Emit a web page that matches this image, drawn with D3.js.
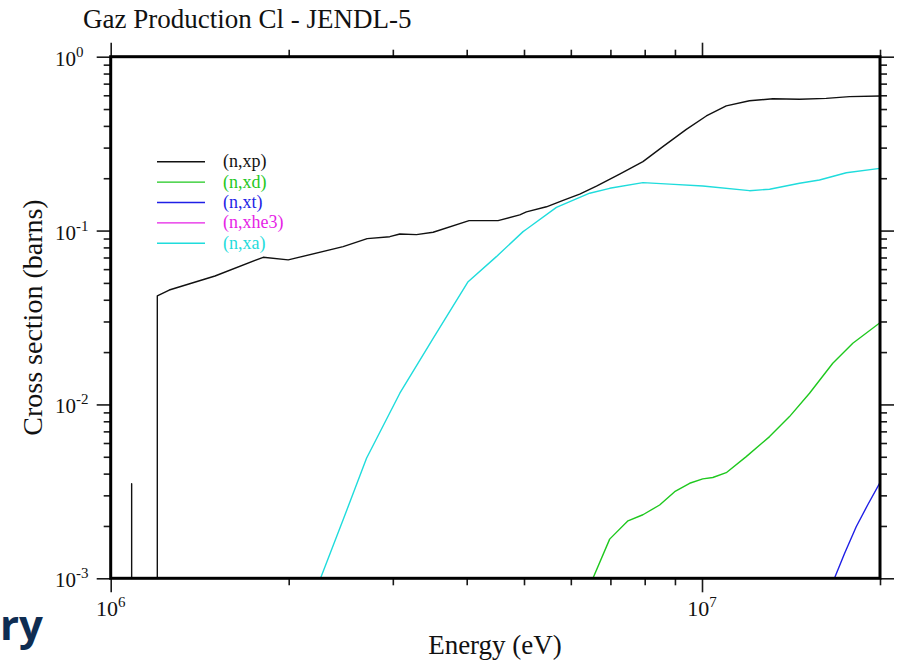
<!DOCTYPE html>
<html>
<head>
<meta charset="utf-8">
<script src="https://cdn.jsdelivr.net/npm/d3@7"></script>
<style>
  html, body { margin: 0; padding: 0; background: #fff; }
  svg { display: block; font-family: "Liberation Serif", "Times New Roman", serif; }
</style>
</head>
<body>
<svg id="chart" width="902" height="660"></svg>
<script>
// Gas production cross sections for chlorine, JENDL-5 evaluation.
// Energies in eV, cross sections in barns. Zero values lie below the plotted floor.
const seriesNames = ["(n,xp)", "(n,xd)", "(n,xt)", "(n,xhe3)", "(n,xa)"];
const seriesColors = ["#111111", "#1ec81e", "#1f1fe6", "#e61fe6", "#1fdcdc"];

const xpEnergy = [1.085e6, 1.085e6, 1.085e6, 1.199e6, 1.199e6, 1.256e6, 1.501e6, 1.811e6, 1.996e6,
  2.472e6, 2.715e6, 2.965e6, 3.083e6, 3.289e6, 3.510e6, 4.037e6, 4.519e6, 4.918e6, 5.047e6,
  5.457e6, 5.822e6, 6.211e6, 6.630e6, 7.256e6, 7.945e6, 8.587e6, 9.408e6, 1.017e7, 1.099e7,
  1.203e7, 1.318e7, 1.462e7, 1.622e7, 1.776e7, 2.0e7];
const xpValue = [0, 0.0035, 0, 0, 0.0421, 0.0455, 0.0548, 0.0702, 0.0678,
  0.0808, 0.0899, 0.0922, 0.0956, 0.0948, 0.0978, 0.114, 0.114, 0.123, 0.128,
  0.137, 0.149, 0.162, 0.180, 0.211, 0.249, 0.304, 0.382, 0.456, 0.521,
  0.558, 0.573, 0.569, 0.576, 0.589, 0.594];

const xdEnergy = [6.54e6, 6.98e6, 7.496e6, 7.945e6, 8.479e6, 8.99e6, 9.53e6, 1.003e7, 1.043e7,
  1.099e7, 1.188e7, 1.301e7, 1.406e7, 1.52e7, 1.664e7, 1.799e7, 2.0e7];
const xdValue = [1.0e-3, 1.68e-3, 2.14e-3, 2.32e-3, 2.64e-3, 3.15e-3, 3.52e-3, 3.73e-3, 3.8e-3,
  4.05e-3, 5.01e-3, 6.53e-3, 8.51e-3, 0.0116, 0.01726, 0.0225, 0.0295];

const xtEnergy = [1.675e7, 1.742e7, 1.823e7, 1.906e7, 2.0e7];
const xtValue = [1.0e-3, 1.39e-3, 1.98e-3, 2.64e-3, 3.55e-3];

const xhe3Energy = [];
const xhe3Value = [];

const xaEnergy = [2.264e6, 2.472e6, 2.708e6, 3.083e6, 3.51e6, 4.022e6, 4.49e6, 4.982e6, 5.047e6,
  5.673e6, 6.457e6, 6.98e6, 7.945e6, 8.817e6, 1.003e7, 1.203e7, 1.301e7, 1.462e7, 1.58e7,
  1.754e7, 2.0e7];
const xaValue = [1.0e-3, 2.17e-3, 4.9e-3, 0.0116, 0.024, 0.0508, 0.0708, 0.0986, 0.1017,
  0.136, 0.164, 0.175, 0.1886, 0.185, 0.1805, 0.1696, 0.1728, 0.187, 0.1954,
  0.215, 0.228];

const xTickExponents = [6, 7];
const yTickExponents = [0, -1, -2, -3];

const titleText = "Gaz Production Cl - JENDL-5";
const xTitle = "Energy (eV)";
const yTitle = "Cross section (barns)";

const allSeries = [
  [xpEnergy, xpValue], [xdEnergy, xdValue], [xtEnergy, xtValue],
  [xhe3Energy, xhe3Value], [xaEnergy, xaValue]
].map(([e, v], i) => ({
  name: seriesNames[i], color: seriesColors[i],
  points: e.map((en, k) => ({ e: en, v: v[k] }))
}));

const svg = d3.select("#chart");
const plotLeft = 110.7, plotRight = 880, plotTop = 56.7, plotBottom = 578.3;

const x = d3.scaleLog().domain([1e6, 2e7]).range([plotLeft, plotRight]);
const y = d3.scaleLog().domain([1e-3, 1]).range([plotBottom, plotTop]);
const yFloor = y.domain()[0];

svg.append("defs").append("clipPath").attr("id", "plot-clip")
  .append("rect").attr("x", plotLeft).attr("y", plotTop)
  .attr("width", plotRight - plotLeft).attr("height", plotBottom - plotTop);

// Curves
const line = d3.line()
  .x(d => x(d.e))
  .y(d => y(Math.max(d.v, yFloor)));

const curves = svg.append("g").attr("clip-path", "url(#plot-clip)");
allSeries.forEach(s => {
  if (!s.points.length) return;
  curves.append("path")
    .attr("d", line(s.points))
    .attr("fill", "none")
    .attr("stroke", s.color)
    .attr("stroke-width", 1.4)
    .attr("stroke-linejoin", "round");
});

// Ticks on all four sides, pointing outward
const isMajor = v => Math.abs(Math.log10(v) - Math.round(Math.log10(v))) < 1e-9;
const xTicks = x.ticks();
const yTicks = y.ticks();
const minorLen = 7, majorLen = 14;
const tickLen = v => isMajor(v) ? majorLen : minorLen;

function styleAxis(g) {
  g.select(".domain").remove();
  g.selectAll(".tick line")
    .attr("stroke", "#1a1a1a")
    .attr("stroke-width", 1.6);
  g.selectAll(".tick text").remove();
}

const axB = svg.append("g").attr("transform", `translate(0,${plotBottom})`)
  .call(d3.axisBottom(x).tickValues(xTicks).tickFormat(""));
axB.selectAll(".tick line").attr("y2", d => tickLen(d));
styleAxis(axB);

const axT = svg.append("g").attr("transform", `translate(0,${plotTop})`)
  .call(d3.axisTop(x).tickValues(xTicks).tickFormat(""));
axT.selectAll(".tick line").attr("y2", d => -tickLen(d));
styleAxis(axT);

const axL = svg.append("g").attr("transform", `translate(${plotLeft},0)`)
  .call(d3.axisLeft(y).tickValues(yTicks).tickFormat(""));
axL.selectAll(".tick line").attr("x2", d => -tickLen(d));
styleAxis(axL);

const axR = svg.append("g").attr("transform", `translate(${plotRight},0)`)
  .call(d3.axisRight(y).tickValues(yTicks).tickFormat(""));
axR.selectAll(".tick line").attr("x2", d => tickLen(d));
styleAxis(axR);

// Frame
svg.append("rect")
  .attr("x", plotLeft).attr("y", plotTop)
  .attr("width", plotRight - plotLeft).attr("height", plotBottom - plotTop)
  .attr("fill", "none").attr("stroke", "#000").attr("stroke-width", 3);

// Power-of-ten tick labels
function powerLabel(sel, exp) {
  sel.append("tspan").text("10");
  sel.append("tspan").attr("dy", -9).attr("font-size", 15).text(String(exp));
}

xTickExponents.forEach(p => {
  const t = svg.append("text")
    .attr("x", x(Math.pow(10, p)))
    .attr("y", 616)
    .attr("text-anchor", "middle")
    .attr("font-size", 22)
    .attr("fill", "#111");
  powerLabel(t, p);
});

yTickExponents.forEach(p => {
  const t = svg.append("text")
    .attr("x", 55)
    .attr("y", y(Math.pow(10, p)) + 9)
    .attr("font-size", 21)
    .attr("fill", "#111");
  powerLabel(t, p);
});

// Titles
svg.append("text")
  .attr("x", 83).attr("y", 28)
  .attr("font-size", 27)
  .attr("fill", "#111")
  .text(titleText);

svg.append("text")
  .attr("x", 495).attr("y", 654)
  .attr("text-anchor", "middle")
  .attr("font-size", 27)
  .attr("fill", "#111")
  .text(xTitle);

svg.append("text")
  .attr("transform", `translate(42,${(plotTop + plotBottom) / 2}) rotate(-90)`)
  .attr("text-anchor", "middle")
  .attr("font-size", 28)
  .attr("fill", "#111")
  .text(yTitle);

// Legend
const legend = svg.append("g");
allSeries.forEach((s, i) => {
  const ly = 161.7 + i * 20.4;
  legend.append("line")
    .attr("x1", 157).attr("x2", 205)
    .attr("y1", ly).attr("y2", ly)
    .attr("stroke", s.color).attr("stroke-width", 1.4);
  legend.append("text")
    .attr("x", 223).attr("y", ly + 5.5)
    .attr("font-size", 18)
    .attr("fill", s.color)
    .text(s.name);
});

// Partial logo text at the lower left edge
svg.append("text")
  .attr("x", 0).attr("y", 640)
  .attr("font-family", "'Open Sans', 'DejaVu Sans', sans-serif")
  .attr("font-weight", "bold")
  .attr("font-size", 42)
  .attr("fill", "#0f2d52")
  .text("ry");
</script>
</body>
</html>
